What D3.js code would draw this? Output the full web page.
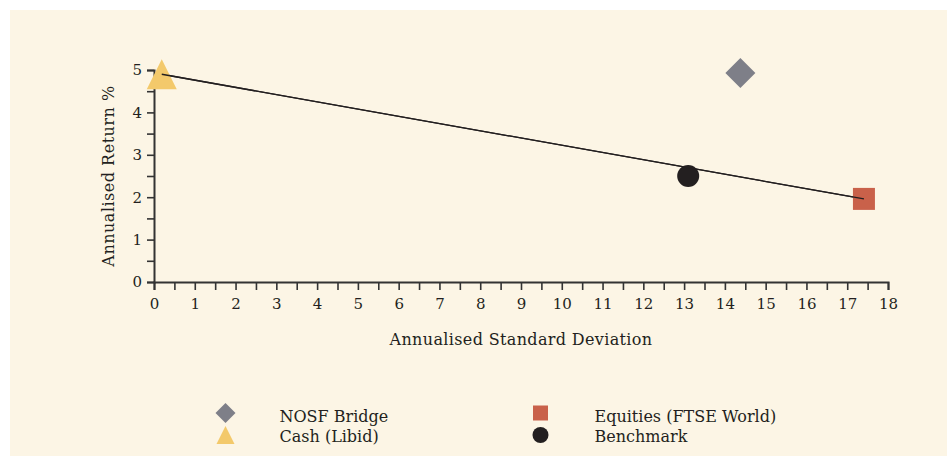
<!DOCTYPE html>
<html>
<head>
<meta charset="utf-8">
<script src="https://cdn.jsdelivr.net/npm/d3@7"></script>
<style>
  body { margin: 0; background: #fff; }
  svg text { font-family: "DejaVu Serif", serif; fill: #231f20; }
</style>
</head>
<body>
<div id="chart"></div>
<script>
// values
const names = ["NOSF Bridge", "Equities (FTSE World)", "Cash (Libid)", "Benchmark"];
const stdDev = [14.38, 17.41, 0.19, 13.1];
const annReturn = [4.93, 1.96, 4.9, 2.5];
const shapes = ["diamond", "square", "triangle", "circle"];
const colors = ["#7e7f88", "#c9614a", "#f3c96b", "#231f20"];
const legendOrder = [0, 1, 2, 3];

const width = 947, height = 457;
const bg = "#fcf5e5";

const svg = d3.select("#chart").append("svg")
	.attr("width", width)
	.attr("height", height);

svg.append("rect")
	.attr("x", 10).attr("y", 10)
	.attr("width", width - 10).attr("height", 446)
	.attr("fill", bg);

const x = d3.scaleLinear().domain([0, 18]).range([154, 888]);
const y = d3.scaleLinear().domain([0, 5]).range([282, 70]);

// shape paths, drawn around 0,0
function shapePath(kind, s) {
	if (kind === "diamond") return `M0,${-s}L${s},0L0,${s}L${-s},0Z`;
	if (kind === "square") return `M${-s},${-s}H${s}V${s}H${-s}Z`;
	if (kind === "triangle") return `M0,${-s}L${s},${s}L${-s},${s}Z`;
	return d3.arc()({innerRadius: 0, outerRadius: s, startAngle: 0, endAngle: 2 * Math.PI});
}
const plotSize = {diamond: 15, square: 11, triangle: 15, circle: 11};
const legendSize = {diamond: 10, square: 7.5, triangle: 9, circle: 8};

// axes with ticks every 0.5
const xAxis = d3.axisBottom(x)
	.tickValues(d3.range(0, 18.5, 0.5))
	.tickSize(8)
	.tickFormat(d => Number.isInteger(d) ? d : "");
const gx = svg.append("g")
	.attr("transform", `translate(0,${y(0)})`)
	.call(xAxis);

const yAxis = d3.axisLeft(y)
	.tickValues(d3.range(0, 5.5, 0.5))
	.tickSize(7)
	.tickFormat(d => Number.isInteger(d) ? d : "");
const gy = svg.append("g")
	.attr("transform", `translate(${x(0)},0)`)
	.call(yAxis);

[gx, gy].forEach(g => {
	g.select(".domain").attr("stroke", "#333").attr("stroke-width", 2);
	g.selectAll(".tick line").attr("stroke", "#333").attr("stroke-width", 1.6);
	g.selectAll(".tick text")
		.attr("font-family", "DejaVu Serif")
		.attr("font-size", 15)
		.attr("fill", "#231f20");
});
gx.selectAll(".tick text").attr("dy", "1.05em");
gy.selectAll(".tick text").attr("x", -12);

svg.append("text")
	.attr("x", 521).attr("y", 345)
	.attr("text-anchor", "middle")
	.attr("font-size", 16)
	.attr("letter-spacing", 0.35)
	.text("Annualised Standard Deviation");

svg.append("text")
	.attr("transform", `translate(114,${176}) rotate(-90)`)
	.attr("text-anchor", "middle")
	.attr("font-size", 16)
	.attr("letter-spacing", 0.5)
	.text("Annualised Return %");

// line from cash to equities
const trend = () => svg.append("line")
	.attr("x1", x(stdDev[2])).attr("y1", y(annReturn[2]))
	.attr("x2", x(stdDev[1])).attr("y2", y(annReturn[1]))
	.attr("stroke", "#231f20")
	.attr("stroke-width", 1.3);
trend();

svg.append("g").selectAll("path")
	.data(names.map((n, i) => i))
	.enter().append("path")
	.attr("transform", i => `translate(${x(stdDev[i])},${y(annReturn[i])})`)
	.attr("d", i => shapePath(shapes[i], plotSize[shapes[i]]))
	.attr("fill", i => colors[i]);

// the line sits on top of the markers at its ends
trend();

// legend, two columns
const legend = svg.append("g");
const items = legend.selectAll("g")
	.data(legendOrder)
	.enter().append("g")
	.attr("transform", (d, k) => `translate(${k % 2 ? 540.5 : 225.5},${k < 2 ? 413 : 435})`);

items.append("path")
	.attr("d", i => shapePath(shapes[i], legendSize[shapes[i]]))
	.attr("fill", i => colors[i]);

items.append("text")
	.attr("x", 54)
	.attr("y", (d, k) => k < 2 ? 8.5 : 6.5)
	.attr("font-size", 16)
	.text(i => names[i]);
</script>
</body>
</html>
